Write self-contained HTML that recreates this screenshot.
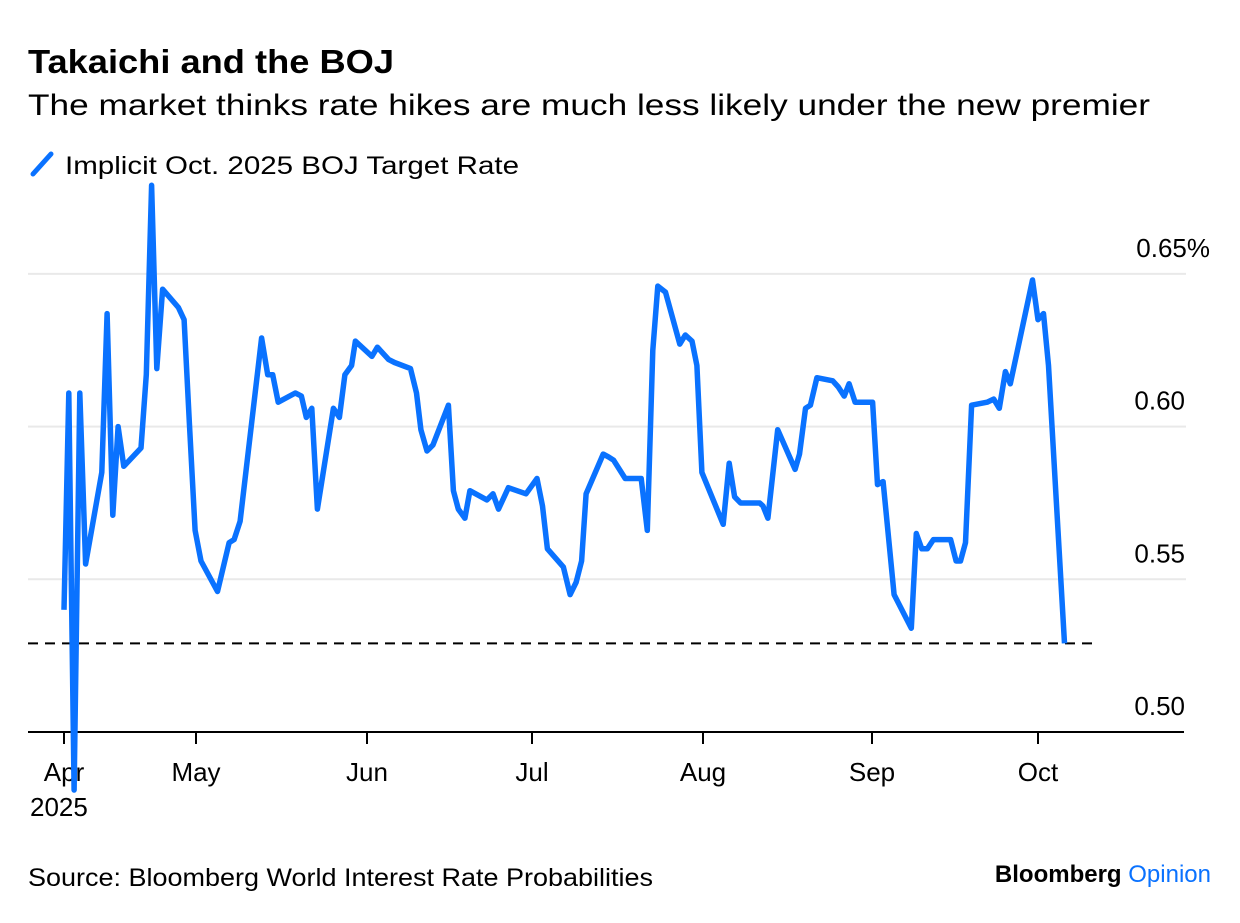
<!DOCTYPE html>
<html><head><meta charset="utf-8"><style>
body{margin:0;background:#fff;}
svg text{font-family:"Liberation Sans",sans-serif;}
</style></head><body>
<svg id="chart" width="1240" height="918" viewBox="0 0 1240 918" xmlns="http://www.w3.org/2000/svg">
<rect width="1240" height="918" fill="#fff"/>
<text x="28" y="73" font-size="33" font-weight="bold" fill="#000" textLength="366" lengthAdjust="spacingAndGlyphs">Takaichi and the BOJ</text>
<text x="28" y="115" font-size="30" fill="#000" textLength="1122" lengthAdjust="spacingAndGlyphs">The market thinks rate hikes are much less likely under the new premier</text>
<g>
<line x1="33" y1="174" x2="51" y2="154" stroke="#0a72ff" stroke-width="5" stroke-linecap="round"/>
<text x="65" y="174" font-size="25" fill="#000" textLength="454" lengthAdjust="spacingAndGlyphs">Implicit Oct. 2025 BOJ Target Rate</text>
</g>
<g id="grid"></g>
<g id="axes"></g>
<g id="series"></g>
<text x="28" y="886" font-size="25" fill="#000" textLength="625" lengthAdjust="spacingAndGlyphs">Source: Bloomberg World Interest Rate Probabilities</text>
<text x="1211" y="882" font-size="24" font-weight="bold" text-anchor="end" fill="#000">Bloomberg <tspan fill="#0a72ff" font-weight="normal">Opinion</tspan></text>
</svg>
<script>
const dayOffsets=[0,1.1,2.3,3.6,4.9,8.6,9.8,11.1,12.3,13.6,17.5,18.7,19.9,21.1,22.4,26,27.3,28.5,29.8,30.9,33.9,36,36.9,38,41.9,43,43.9,44.9,48,49.1,50,51,52,54.9,56,57,58.2,58.9,61.9,62.9,64.9,66,68.9,70,70.8,71.9,73,75.8,76.7,77.6,78.8,79.7,82.8,83.9,84.9,86.7,89.9,91.9,92.9,93.8,96.7,97.9,99,100,100.8,103.9,104.9,105.8,107.9,110.8,111.9,112.9,113.8,115.2,117.8,118.8,120,120.9,121.8,125.7,126.8,127.8,128.9,132.4,133,133.9,135.7,138.9,139.7,140.8,141.7,142.9,145.8,146.8,147.9,148.8,149.9,153.1,154,155,157,160.1,161,162,163,164.1,167.2,168.2,169,169.9,171,173.8,175,176,177.1,178,182,183,184,184.9,187.8];
const rates=[0.540,0.611,0.481,0.611,0.555,0.585,0.637,0.571,0.600,0.587,0.593,0.617,0.679,0.619,0.645,0.639,0.635,0.601,0.566,0.556,0.546,0.562,0.563,0.569,0.629,0.617,0.617,0.608,0.611,0.610,0.603,0.606,0.573,0.606,0.603,0.617,0.620,0.628,0.623,0.626,0.622,0.621,0.619,0.611,0.599,0.592,0.594,0.607,0.579,0.573,0.570,0.579,0.576,0.578,0.573,0.580,0.578,0.583,0.574,0.560,0.554,0.545,0.549,0.556,0.578,0.591,0.590,0.589,0.583,0.583,0.566,0.625,0.646,0.644,0.627,0.630,0.628,0.620,0.585,0.568,0.588,0.577,0.575,0.575,0.574,0.570,0.599,0.586,0.591,0.606,0.607,0.616,0.615,0.613,0.610,0.614,0.608,0.608,0.581,0.582,0.545,0.534,0.565,0.560,0.560,0.563,0.563,0.556,0.556,0.562,0.607,0.608,0.609,0.606,0.618,0.614,0.648,0.635,0.637,0.620,0.529];
const refRate=0.529;
const yTicks=[0.50,0.55,0.60,0.65];
const yTickLabels=["0.50","0.55","0.60","0.65%"];
const monthLabels=["Apr","May","Jun","Jul","Aug","Sep","Oct"];
const monthStartDays=[0,30,61,91,122,153,183];
const monthPx=[64,196,367,532,703,872,1038];
const NS="http://www.w3.org/2000/svg";
function x(d){
  for(let i=0;i<monthStartDays.length-1;i++){
    if(d<=monthStartDays[i+1]){return monthPx[i]+(d-monthStartDays[i])/(monthStartDays[i+1]-monthStartDays[i])*(monthPx[i+1]-monthPx[i]);}
  }
  const n=monthStartDays.length-1;return monthPx[n]+(d-monthStartDays[n])*5.53;
}
function y(v){return 732-(v-0.5)*3054;}
function mk(tag,attrs,parent){const e=document.createElementNS(NS,tag);for(const k in attrs)e.setAttribute(k,attrs[k]);parent.appendChild(e);return e;}
const grid=document.getElementById('grid'),axes=document.getElementById('axes'),series=document.getElementById('series');
yTicks.forEach((t,i)=>{
  if(i>0){const g=mk('line',{x1:28,x2:1186,y1:y(t),y2:y(t),stroke:'#e9e9e9','stroke-width':2},grid);
  
  }
  const tx=mk('text',{x:1185,y:y(t)-17,'font-size':26,'text-anchor':'end',fill:'#000'},axes);
  if(i===3){tx.setAttribute('x',1210);}
  tx.textContent=yTickLabels[i];
  
  
});
const ax=mk('line',{x1:28,x2:1184,y1:732,y2:732,stroke:'#000','stroke-width':2},axes);


monthLabels.forEach((m,i)=>{
  const px=x(monthStartDays[i]);
  const tk=mk('line',{x1:px,x2:px,y1:732,y2:744,stroke:'#000','stroke-width':2},axes);
  
  
  const t=mk('text',{x:px,y:781,'font-size':26,'text-anchor':'middle',fill:'#000'},axes);
  t.textContent=m;
  
  
});
const yr=mk('text',{x:30,y:816,'font-size':26,fill:'#000'},axes);
yr.textContent='2025';


const ref=mk('line',{x1:28,x2:1098,y1:y(refRate),y2:y(refRate),stroke:'#000','stroke-width':2,'stroke-dasharray':'10 7'},series);


const pts=dayOffsets.map((d,i)=>x(d).toFixed(1)+','+y(rates[i]).toFixed(1)).join(' ');
const pl=mk('polyline',{points:pts,fill:'none',stroke:'#0a72ff','stroke-width':5.5,'stroke-linejoin':'round'},series);


</script>
</body></html>
